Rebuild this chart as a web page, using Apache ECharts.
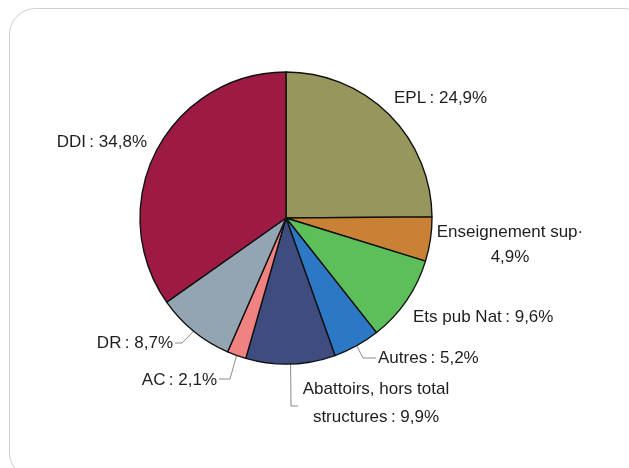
<!DOCTYPE html>
<html>
<head>
<meta charset="utf-8">
<script src="https://cdn.jsdelivr.net/npm/echarts@6/dist/echarts.min.js"></script>
<style>
  html, body { margin: 0; padding: 0; background: #ffffff; }
  #chart { width: 629px; height: 468px; }
</style>
</head>
<body>
<div id="chart"></div>
<script>
// Shares of the total, clockwise from twelve o'clock
const categories = ['EPL', 'Enseignement sup·', 'Ets pub Nat', 'Autres', 'Abattoirs, hors total structures', 'AC', 'DR', 'DDI'];
const shares = [24.9, 4.9, 9.6, 5.2, 9.9, 2.1, 8.7, 34.8];
const shareLabels = [
  'EPL\u2009: 24,9%',
  'Enseignement sup·\n4,9%',
  'Ets pub Nat\u2009: 9,6%',
  'Autres\u2009: 5,2%',
  'Abattoirs, hors total\nstructures\u2009: 9,9%',
  'AC\u2009: 2,1%',
  'DR\u2009: 8,7%',
  'DDI\u2009: 34,8%'
];
const sliceColors = ['#97965c', '#c98136', '#5cbf59', '#2d78c4', '#3e4c7f', '#f08282', '#93a5b3', '#9d1b42'];

// Label placement: anchor point, alignment, line spacing and optional elbow leader line
const labelPlacement = [
  { x: 394, y: 98, align: 'left' },
  { x: 510, y: 245, align: 'center', lh: 25 },
  { x: 413, y: 317, align: 'left' },
  { x: 378, y: 358, align: 'left', elbow: [[363, 358], [376, 358]] },
  { x: 376, y: 403, align: 'center', lh: 28, elbow: [[291, 406], [298, 406]] },
  { x: 217, y: 380, align: 'right', elbow: [[230, 379], [219, 379]] },
  { x: 173, y: 343, align: 'right', elbow: [[182, 343], [175, 343]] },
  { x: 147, y: 142, align: 'right' }
];

const chart = echarts.init(document.getElementById('chart'));
chart.setOption({
  animation: false,
  backgroundColor: '#ffffff',
  graphic: [{
    type: 'rect',
    shape: { x: 9.5, y: 8.5, width: 640, height: 470, r: 26 },
    style: { fill: 'none', stroke: '#cfcfcf', lineWidth: 1 },
    silent: true
  }],
  series: [{
    type: 'pie',
    center: [286, 218],
    radius: [0, 146],
    startAngle: 90,
    clockwise: true,
    avoidLabelOverlap: false,
    itemStyle: { borderColor: '#111111', borderWidth: 1.4 },
    label: {
      show: true,
      position: 'outside',
      fontFamily: 'Liberation Sans',
      fontSize: 17,
      lineHeight: 25,
      color: '#1e1e1e',
      formatter: p => shareLabels[p.dataIndex]
    },
    labelLine: {
      show: true,
      length: 10,
      length2: 10,
      lineStyle: { color: '#8a8a8a', width: 1 }
    },
    labelLayout: function (params) {
      const pl = labelPlacement[params.dataIndex];
      const out = { x: pl.x, y: pl.y, align: pl.align, verticalAlign: 'middle' };
      if (pl.elbow && params.labelLinePoints) {
        out.labelLinePoints = [params.labelLinePoints[0], pl.elbow[0], pl.elbow[1]];
      }
      return out;
    },
    data: categories.map((name, i) => ({
      name: name,
      value: shares[i],
      itemStyle: { color: sliceColors[i] },
      label: labelPlacement[i].lh ? { lineHeight: labelPlacement[i].lh } : {},
      labelLine: { show: !!labelPlacement[i].elbow }
    }))
  }]
});
</script>
</body>
</html>
